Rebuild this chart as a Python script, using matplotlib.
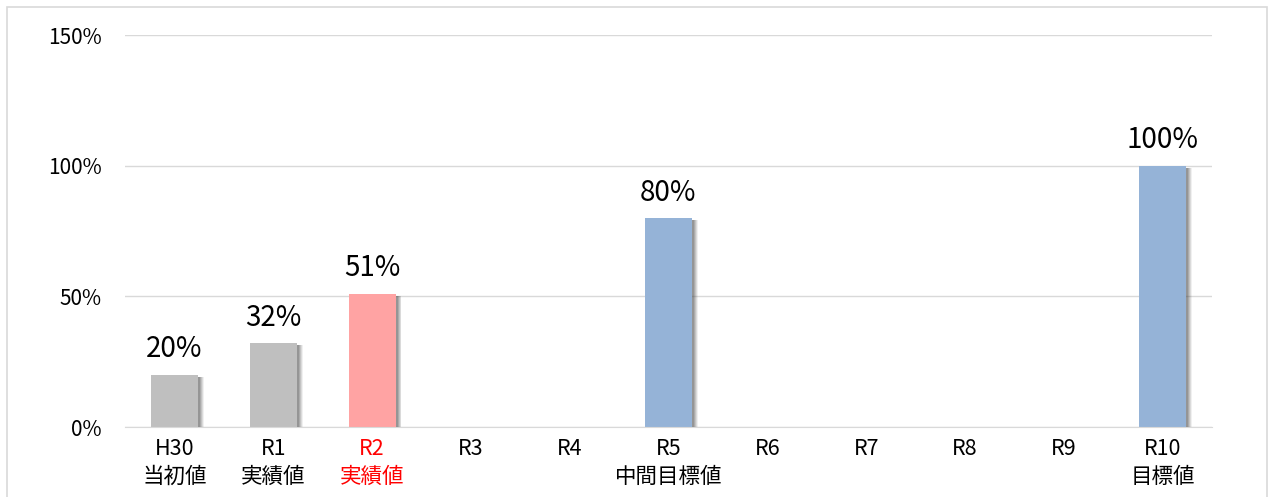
import matplotlib
matplotlib.use("Agg")
import matplotlib.pyplot as plt
import matplotlib.patheffects as pe
from matplotlib.patches import Rectangle
import numpy as np

plt.rcParams['font.family'] = ['Noto Sans CJK JP', 'DejaVu Sans']

categories = ["H30\n当初値", "R1\n実績値", "R2\n実績値", "R3", "R4", "R5\n中間目標値",
              "R6", "R7", "R8", "R9", "R10\n目標値"]
values = [20, 32, 51, np.nan, np.nan, 80, np.nan, np.nan, np.nan, np.nan, 100]
bar_colors = ["#BFBFBF", "#BFBFBF", "#FFA3A3", "#95B3D7", "#95B3D7", "#95B3D7",
              "#95B3D7", "#95B3D7", "#95B3D7", "#95B3D7", "#95B3D7"]
label_colors = ["black", "black", "#FF0000", "black", "black", "black",
                "black", "black", "black", "black", "black"]
yticks = [0, 50, 100, 150]

fig = plt.figure(figsize=(12.72, 4.97), dpi=100)
ax = fig.add_axes([125/1272, 70/497, (1212-125)/1272, (427-35)/497])

x = np.arange(len(categories))
bars = ax.bar(x, values, width=0.476, color=bar_colors, zorder=3)
shadow_layers = [pe.SimplePatchShadow(offset=(o, -1.5), shadow_rgbFace='#404040', alpha=a)
                 for o, a in [(4.2, 0.08), (3.6, 0.12), (3.0, 0.15), (2.3, 0.18), (1.5, 0.2)]]
for b in bars:
    b.set_path_effects(shadow_layers + [pe.Normal()])

for xi, v in zip(x, values):
    if not np.isnan(v):
        ax.annotate(f"{v:.0f}%", (xi, v), xytext=(0, 7.5), textcoords='offset points',
                    ha='center', va='bottom', fontsize=20, color='black', zorder=4)

ax.set_xlim(-0.5, len(categories) - 0.5)
ax.set_ylim(0, 150)
ax.set_yticks(yticks)
ax.set_yticklabels([f"{t}%" for t in yticks], fontsize=15)
ax.set_xticks(x)
ax.set_xticklabels(categories, fontsize=15.5, linespacing=1.32)
for lbl, c in zip(ax.get_xticklabels(), label_colors):
    lbl.set_color(c)
ax.tick_params(axis='both', length=0)
ax.tick_params(axis='y', pad=17)
ax.tick_params(axis='x', pad=8)
ax.grid(axis='y', color='#D9D9D9', linewidth=1, zorder=0)
for s in ['top', 'right', 'left']:
    ax.spines[s].set_visible(False)
ax.spines['bottom'].set_color('#D9D9D9')
ax.spines['bottom'].set_zorder(5)

fig.patches.append(Rectangle((7/1272, -0.05), (1267-7)/1272, 1.05 - 7/497,
                             transform=fig.transFigure, fill=False,
                             edgecolor='#D9D9D9', linewidth=1.2))

fig.savefig("out.png", dpi=100)
